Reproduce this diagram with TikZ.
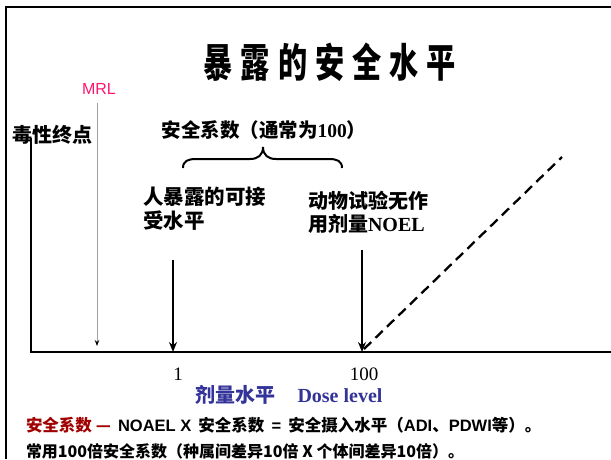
\documentclass[tikz,border=0pt]{standalone}
\usepackage{fontspec}
\setmainfont{Liberation Serif}
\newfontfamily\cjk{Noto Sans CJK SC}
\newfontfamily\cjktitle{Noto Sans CJK SC}[FakeStretch=0.73,LetterSpace=20]
\newfontfamily\arial{Liberation Sans}
\usetikzlibrary{arrows.meta}
\definecolor{mrlpink}{RGB}{255,20,110}
\definecolor{doseblue}{RGB}{51,51,153}
\definecolor{darkred}{RGB}{160,0,0}
\tikzset{
  frameline/.style={line width=2.5pt,black},
  axisline/.style={line width=2pt,black},
  bigarrow/.style={line width=2pt,-{Stealth[length=10pt,width=8pt]}},
  mrlarrow/.style={line width=0.9pt,gray!75,-{Stealth[length=6pt,width=4.5pt,black]}},
  dashline/.style={line width=2.3pt,dash pattern=on 10pt off 6pt},
  lbl/.style={inner sep=0pt,outer sep=0pt},
}
\begin{document}
\begin{tikzpicture}[x=1pt,y=-1pt]
\useasboundingbox (0,0) rectangle (611,459);
% frame
\coordinate (fbl) at (6,459);
\coordinate (ftl) at (6,7);
\coordinate (ftr) at (611,7);
\draw[frameline] (fbl) -- (ftl) -- (ftr);
% title
\node[lbl] (title) at (330,62) {\cjktitle\bfseries\fontsize{40}{44}\selectfont 暴露的安全水平};
% axes
\coordinate (yt) at (31,138);
\coordinate (o) at (31,352);
\coordinate (xe) at (611,352);
\draw[axisline] (yt) -- (o) -- (xe);
\node[lbl] (yl) at (52.5,135) {\cjk\bfseries\fontsize{20}{24}\selectfont 毒性终点};
% MRL
\node[lbl,text=mrlpink] (mrl) at (99,89) {\arial\fontsize{16}{18}\selectfont MRL};
\coordinate (mrlt) at (97,103);
\coordinate (mrlb) at (97,346);
\draw[mrlarrow] (mrlt) -- (mrlb);
% brace
\node[lbl] (sf) at (264,130) {\cjk\bfseries\fontsize{19.5}{22}\selectfont 安全系数（通常为{\rmfamily\bfseries 100}）};
\coordinate (bl) at (183,168);
\coordinate (br) at (342,168);
\coordinate (bt) at (263,147);
\draw[line width=2pt] (bl) .. controls (183,161) and (188,159) .. (196,159) -- (250,159)
  .. controls (258,159) and (263,155) .. (bt)
  .. controls (263,155) and (268,159) .. (276,159) -- (329,159)
  .. controls (337,159) and (342,161) .. (br);
% human acceptable level
\node[lbl,anchor=west,align=left,font=\cjk\bfseries\fontsize{20.5}{24}\selectfont] (human) at (143,209) {人暴露的可接\\受水平};
\coordinate (a1t) at (173,260);
\coordinate (a1b) at (173,352);
\draw[bigarrow] (a1t) -- (a1b);
% NOEL
\node[lbl,anchor=west,align=left,font=\fontsize{20}{23}\selectfont] (noel) at (308,212) {{\cjk\bfseries 动物试验无作}\\{\cjk\bfseries 用剂量}{\bfseries NOEL}};
\coordinate (a2t) at (362,250);
\coordinate (a2b) at (362,352);
\draw[bigarrow] (a2t) -- (a2b);
% dashed response line
\coordinate (d1) at (364,349);
\coordinate (d2) at (562,157);
\draw[dashline] (d1) -- (d2);
% tick labels
\node[lbl] (t1) at (178,374) {\fontsize{19}{22}\selectfont 1};
\node[lbl] (t100) at (364,374) {\fontsize{19}{22}\selectfont 100};
\node[lbl,text=doseblue] (xl) at (289,395) {\fontsize{20}{24}\selectfont{\cjk\bfseries 剂量水平}\hspace{22pt}\textbf{Dose level}};
% bottom notes
\node[lbl,anchor=west] (n1) at (26,425) {\fontsize{16.5}{18}\selectfont{\cjk\bfseries\color{darkred}安全系数 —}\hspace{3pt} {\arial\bfseries NOAEL X}\hspace{3pt} {\cjk\bfseries 安全系数}\hspace{3pt} {\arial\bfseries =}\hspace{3pt} {\cjk\bfseries 安全摄入水平（}{\arial\bfseries ADI}{\cjk\bfseries 、}{\arial\bfseries PDWI}{\cjk\bfseries 等）。}};
\node[lbl,anchor=west] (n2) at (26,451) {\cjk\bfseries\fontsize{16}{18}\selectfont 常用100倍安全系数（种属间差异10倍 X 个体间差异10倍）。};
\end{tikzpicture}
\end{document}
